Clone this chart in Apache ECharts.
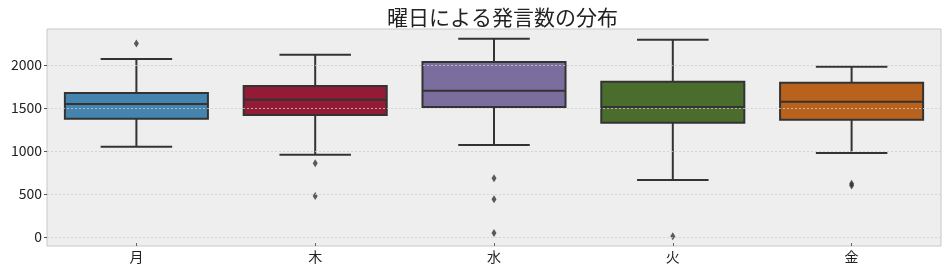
<!DOCTYPE html>
<html>
<head>
<meta charset="utf-8">
<script src="https://cdn.jsdelivr.net/npm/echarts@6/dist/echarts.min.js"></script>
<style>html,body{margin:0;padding:0;background:#fff}#c{width:946px;height:270px}</style>
</head>
<body>
<div id="c"></div>
<script>
const categories = ['月', '木', '水', '火', '金'];
const whiskerLow = [1050, 957, 1070, 663, 977];
const q1Values = [1376, 1419, 1512, 1329, 1364];
const medianValues = [1547, 1597, 1701, 1512, 1574];
const q3Values = [1674, 1756, 2035, 1806, 1794];
const whiskerHigh = [2070, 2120, 2306, 2295, 1981];
const boxColors = ['#4584ae', '#931b35', '#7b6e9e', '#4a6c2d', '#b9621e'];
const outliers = [
  ['月', 2252],
  ['木', 857], ['木', 477],
  ['水', 682], ['水', 438], ['水', 47],
  ['火', 8],
  ['金', 618], ['金', 598]
];
const yTicks = [0, 500, 1000, 1500, 2000];
const titleText = '曜日による発言数の分布';

const boxData = categories.map((c, i) => [i, whiskerLow[i], q1Values[i], medianValues[i], q3Values[i], whiskerHigh[i]]);
const FONT = '"Noto Sans CJK JP", "Noto Sans", sans-serif';
const EDGE = '#333333';

const chart = echarts.init(document.getElementById('c'));
chart.setOption({
  animation: false,
  title: {
    text: titleText, left: 382, top: 2,
    textStyle: {fontFamily: FONT, fontSize: 21, fontWeight: 'normal', color: '#222'}
  },
  grid: {left: 47, right: 5, top: 29, bottom: 24, show: true, backgroundColor: '#eeeeee', borderColor: '#c8c8c8', borderWidth: 1},
  xAxis: {
    type: 'category', data: categories, boundaryGap: true,
    axisLine: {show: false, onZero: false},
    axisTick: {show: true, alignWithLabel: true, inside: true, length: 3, lineStyle: {color: '#666'}},
    axisLabel: {fontFamily: FONT, fontSize: 14, color: '#222', margin: 4},
    splitLine: {show: false}
  },
  yAxis: {
    type: 'value', min: -105, max: 2420, splitNumber: 5, z: 5,
    axisLine: {show: false},
    axisTick: {show: true, length: 3, customValues: yTicks, lineStyle: {color: '#555'}},
    axisLabel: {fontFamily: FONT, fontSize: 14, color: '#222', margin: 5, customValues: yTicks,
      formatter: v => String(v)},
    splitLine: {show: true, lineStyle: {color: '#cccccc', type: [2, 2], width: 0.8}}
  },
  series: [
    {
      type: 'custom',
      data: boxData,
      encode: {x: 0, y: [1, 2, 3, 4, 5]},
      z: 2,
      renderItem: function (params, api) {
        const idx = api.value(0);
        const band = api.size([1, 0])[0];
        const bw = band * 0.8;
        const cw = bw / 2;
        const pLow = api.coord([idx, api.value(1)]);
        const pQ1 = api.coord([idx, api.value(2)]);
        const pMed = api.coord([idx, api.value(3)]);
        const pQ3 = api.coord([idx, api.value(4)]);
        const pHigh = api.coord([idx, api.value(5)]);
        const x = pQ1[0];
        const ls = {stroke: EDGE, lineWidth: 2};
        return {
          type: 'group',
          children: [
            {type: 'line', shape: {x1: x, y1: pQ1[1], x2: x, y2: pLow[1]}, style: ls},
            {type: 'line', shape: {x1: x, y1: pQ3[1], x2: x, y2: pHigh[1]}, style: ls},
            {type: 'line', shape: {x1: x - cw / 2, y1: pLow[1], x2: x + cw / 2, y2: pLow[1]}, style: ls},
            {type: 'line', shape: {x1: x - cw / 2, y1: pHigh[1], x2: x + cw / 2, y2: pHigh[1]}, style: ls},
            {type: 'rect', shape: {x: x - bw / 2, y: pQ3[1], width: bw, height: pQ1[1] - pQ3[1]},
              style: {fill: boxColors[idx], stroke: EDGE, lineWidth: 2}},
            {type: 'line', shape: {x1: x - bw / 2, y1: pMed[1], x2: x + bw / 2, y2: pMed[1]}, style: ls}
          ]
        };
      }
    },
    {
      type: 'scatter',
      data: outliers,
      symbol: 'diamond',
      symbolSize: [5, 8],
      itemStyle: {color: '#333333'},
      z: 3
    }
  ]
});
</script>
</body>
</html>
